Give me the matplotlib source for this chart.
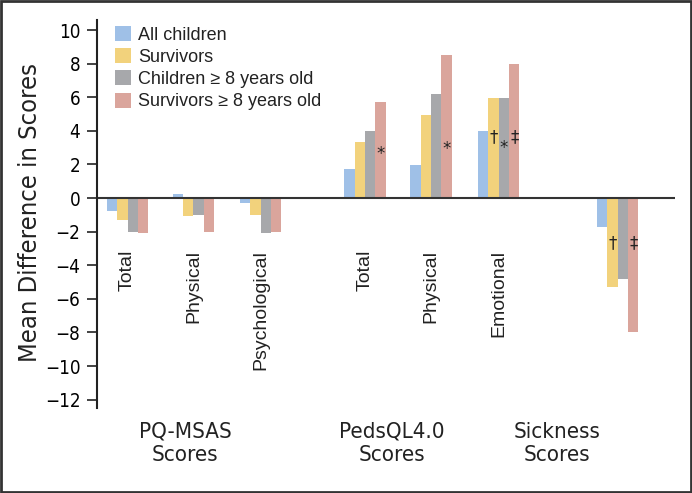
import numpy as np
import matplotlib
matplotlib.use("Agg")
from matplotlib import pyplot as plt
from matplotlib.patches import Rectangle, Patch

# data
subcategories = ["Total", "Physical", "Psychological", "Total", "Physical", "Emotional", ""]
group_labels = ["PQ-MSAS\nScores", "PedsQL4.0\nScores", "Sickness\nScores"]
series_names = ["All children", "Survivors", "Children \u2265 8 years old", "Survivors \u2265 8 years old"]
all_children = [-0.75, 0.22, -0.28, 1.7, 1.95, 3.97, -1.7]
survivors = [-1.3, -1.05, -1.0, 3.35, 4.96, 5.95, -5.3]
children_8 = [-2.0, -1.0, -2.1, 3.97, 6.17, 5.95, -4.8]
survivors_8 = [-2.1, -2.0, -2.0, 5.7, 8.5, 7.96, -8.0]
# significance marks: (category index, series index, symbol, y)
marks = [(3, 3, "*", 2.6), (4, 3, "*", 2.9),
         (5, 1, "\u2020", 3.6), (5, 2, "*", 3.0), (5, 3, "\u2021", 3.6),
         (6, 1, "\u2020", -2.7), (6, 3, "\u2021", -2.7)]

colors = ["#9fc0e7", "#f2d27c", "#a7a8ab", "#daa59c"]
positions = np.array([0, 0.99, 2.0, 3.57, 4.56, 5.58, 7.37])
width = 0.155

fig = plt.figure(figsize=(6.92, 4.93), dpi=100)
W, H = 692, 493
ax = fig.add_axes([97 / W, (H - 408) / H, (675 - 97) / W, (408 - 20) / H])

series = [all_children, survivors, children_8, survivors_8]
for i, vals in enumerate(series):
    ax.bar(positions + (i - 1.5) * width, vals, width, color=colors[i], linewidth=0)

for ci, si, sym, y in marks:
    ax.text(positions[ci] + (si - 1.5) * width, y, sym, ha="center", va="center",
            fontsize=12, color="#222222", family="DejaVu Sans")

for x, lab in zip(positions, subcategories):
    if lab:
        ax.text(x, -3.1, lab, rotation=90, ha="center", va="top",
                fontsize=14, family=["Liberation Sans", "DejaVu Sans"], color="#222222")

ax.axhline(0, color="#333333", lw=1.5)
ax.set_xlim(-0.46, 8.23)
ax.set_ylim(-12.5, 10.6)
ax.set_yticks(np.arange(-12, 11, 2))
ax.set_yticklabels([str(v).replace("-", "\u2212") for v in range(-12, 11, 2)],
                   family="DejaVu Sans", stretch="condensed", fontsize=13.5)
ax.tick_params(axis="y", direction="out", length=7, width=1.2, color="#222222", pad=5)
ax.set_xticks([])
for s in ["top", "right", "bottom"]:
    ax.spines[s].set_visible(False)
ax.spines["left"].set_linewidth(1.5)
ax.spines["left"].set_color("#222222")

fig.text(30 / W, 1 - 212 / H, "Mean Difference in Scores", rotation=90, ha="center", va="center",
         fontsize=18.3, family="DejaVu Sans", stretch="condensed", color="#222222")

for xc, lab in zip([185, 392, 557], group_labels):
    fig.text(xc / W, 1 - 422 / H, lab, ha="center", va="top", linespacing=1.2,
             fontsize=16, family="DejaVu Sans", stretch="condensed", color="#222222")

handles = [Patch(facecolor=c, edgecolor="none") for c in colors]
leg = ax.legend(handles, series_names, loc="upper left", bbox_to_anchor=(115 / W, 1 - 26 / H),
                bbox_transform=fig.transFigure, frameon=False, handlelength=0.9, handleheight=0.9,
                handletextpad=0.4, labelspacing=0.25, borderaxespad=0, borderpad=0,
                prop={"family": ["Liberation Sans", "DejaVu Sans"], "size": 13})
for t in leg.get_texts():
    t.set_color("#222222")

fig.patches.append(Rectangle((0.0015, 0.002), 0.997, 0.996, transform=fig.transFigure,
                             fill=False, edgecolor="#333333", lw=2))

fig.savefig("out.png", dpi=100)
